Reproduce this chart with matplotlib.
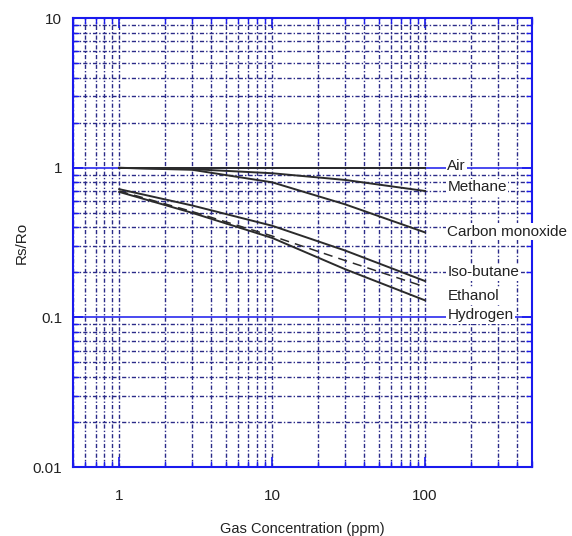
import matplotlib
matplotlib.use("Agg")
import matplotlib.pyplot as plt
from matplotlib.ticker import FuncFormatter, LogLocator, NullFormatter

plt.rcParams['font.family'] = ['Liberation Sans', 'DejaVu Sans']

# Data
conc = [1, 3, 10, 30, 100]
air = [1.0, 1.0, 1.0, 1.0, 1.0]
methane = [1.0, 0.98, 0.92, 0.83, 0.70]
carbon_monoxide = [1.0, 0.97, 0.80, 0.57, 0.37]
iso_butane = [0.72, 0.56, 0.41, 0.28, 0.175]
ethanol = [0.70, 0.51, 0.35, 0.24, 0.16]
hydrogen = [0.69, 0.50, 0.34, 0.21, 0.13]

labels = ["Air", "Methane", "Carbon monoxide", "Iso-butane", "Ethanol", "Hydrogen"]
label_y = [1.03, 0.74, 0.375, 0.2, 0.138, 0.103]

fig = plt.figure(figsize=(5.72, 5.36), dpi=100)
ax = fig.add_axes([0.128, 0.1287, 0.802, 0.8373])
ax.set_xscale('log')
ax.set_yscale('log')
ax.set_xlim(0.5, 500)
ax.set_ylim(0.01, 10)

grid_col = '#2a2a88'
dash = (0, (3, 1.5, 1, 1.5))
ax.set_axisbelow(True)
ax.grid(which='both', axis='x', linestyle=dash, color=grid_col, linewidth=1.0)
ax.grid(which='minor', axis='y', linestyle=dash, color=grid_col, linewidth=1.0)
ax.grid(which='major', axis='y', linestyle='-', color='#2a2aee', linewidth=1.2)

line_col = '#2b2b2b'
ax.plot(conc, air, color=line_col, lw=1.4)
ax.plot(conc, methane, color=line_col, lw=1.4)
ax.plot(conc, carbon_monoxide, color=line_col, lw=1.4)
ax.plot(conc, iso_butane, color=line_col, lw=1.4)
ax.plot(conc, ethanol, color=line_col, lw=1.1, dashes=(6, 4))
ax.plot(conc, hydrogen, color=line_col, lw=1.4)

for lab, yv in zip(labels, label_y):
    ax.text(140, yv, lab, fontsize=11, color='#222222', va='center', ha='left',
            clip_on=False, zorder=10,
            bbox=dict(facecolor='white', edgecolor='none', pad=1.0))

for s in ax.spines.values():
    s.set_color('#1a1aee')
    s.set_linewidth(1.5)

ax.xaxis.set_major_locator(LogLocator(base=10, numticks=10))
ax.yaxis.set_major_locator(LogLocator(base=10, numticks=10))
ax.xaxis.set_minor_locator(LogLocator(base=10, subs=range(2, 10), numticks=20))
ax.yaxis.set_minor_locator(LogLocator(base=10, subs=range(2, 10), numticks=20))
fmt = FuncFormatter(lambda v, p: '{:g}'.format(v))
ax.xaxis.set_major_formatter(fmt)
ax.yaxis.set_major_formatter(fmt)
ax.xaxis.set_minor_formatter(NullFormatter())
ax.yaxis.set_minor_formatter(NullFormatter())

ax.tick_params(which='both', direction='in', top=True, right=True, color='#1a1aee',
               labelcolor='#222222', labelsize=11)
ax.tick_params(which='major', length=7, width=1.2)
ax.tick_params(which='minor', length=4, width=1.0)
ax.tick_params(axis='x', which='major', pad=16)
ax.tick_params(axis='y', which='major', pad=8)

ax.set_xlabel('Gas Concentration (ppm)', fontsize=10.5, color='#222222')
ax.xaxis.set_label_coords(0.5, -0.122)
ax.set_ylabel('Rs/Ro', fontsize=11, color='#222222')
ax.yaxis.set_label_coords(-0.098, 0.5)

fig.savefig('out.png', dpi=100)
